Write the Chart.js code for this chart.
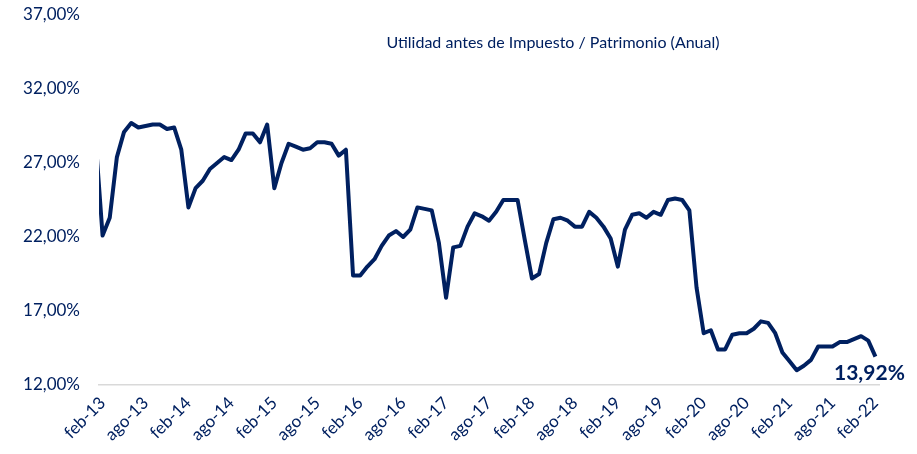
<!DOCTYPE html>
<html>
<head>
<meta charset="utf-8">
<script src="https://cdn.jsdelivr.net/npm/chart.js@4/dist/chart.umd.min.js"></script>
<style>
  html, body { margin: 0; padding: 0; background: #fff; }
  #wrap { width: 917px; height: 454px; position: relative; }
</style>
</head>
<body>
<div id="wrap"><canvas id="myChart"></canvas></div>
<script>
// monthly values, ene-13 .. feb-22 (index 0 = ene-13, 1 = feb-13)
const values = [
  28.8,
  22.1, 23.3, 27.4, 29.1, 29.7, 29.4, 29.5, 29.6, 29.6, 29.3,
  29.4, 27.9, 24.0, 25.3, 25.8, 26.6, 27.0, 27.4, 27.2, 27.9,
  29.0, 29.0, 28.4, 29.6, 25.3, 27.0, 28.3, 28.1, 27.9, 28.0,
  28.4, 28.4, 28.3, 27.5, 27.9, 19.4, 19.4, 20.0, 20.5, 21.4,
  22.1, 22.4, 22.0, 22.5, 24.0, 23.9, 23.8, 21.6, 17.9, 21.3,
  21.4, 22.7, 23.6, 23.4, 23.1, 23.7, 24.5, 24.5, 24.5, 21.8,
  19.2, 19.5, 21.6, 23.2, 23.3, 23.1, 22.7, 22.7, 23.7, 23.3,
  22.7, 21.9, 20.0, 22.5, 23.5, 23.6, 23.3, 23.7, 23.5, 24.5,
  24.6, 24.5, 23.8, 18.6, 15.5, 15.7, 14.4, 14.4, 15.4, 15.5,
  15.5, 15.8, 16.3, 16.2, 15.5, 14.2, 13.6, 13.0, 13.3, 13.7,
  14.6, 14.6, 14.6, 14.9, 14.9, 15.1, 15.3, 15.0, 13.92
];

// x tick labels, every 6 months starting at feb-13 (index 1)
const tickLabels = [
  "feb-13", "ago-13", "feb-14", "ago-14", "feb-15", "ago-15", "feb-16",
  "ago-16", "feb-17", "ago-17", "feb-18", "ago-18", "feb-19", "ago-19",
  "feb-20", "ago-20", "feb-21", "ago-21", "feb-22"
];
const tickStart = 1;
const tickStep = 6;

const yTicks = [12, 17, 22, 27, 32, 37];

const title = "Utilidad antes de Impuesto / Patrimonio (Anual)";
const lastLabel = "13,92%";

const navy = "#002060";
const font = "Lato, 'Open Sans', sans-serif";

const overlay = {
  id: "overlay",
  afterDatasetsDraw(chart) {
    const { ctx, chartArea, scales } = chart;
    ctx.save();
    ctx.fillStyle = navy;
    ctx.textAlign = "center";
    ctx.textBaseline = "middle";
    ctx.font = "16px " + font;
    ctx.fillText(title, chartArea.left + (chartArea.right - chartArea.left) * 0.582, chartArea.top + 28);

    const i = values.length - 1;
    const px = scales.x.getPixelForValue(i);
    const py = scales.y.getPixelForValue(values[i]);
    ctx.font = "bold 21px " + font;
    ctx.fillText(lastLabel, px - 6, py + 17);
    ctx.restore();
  }
};

new Chart(document.getElementById("myChart").getContext("2d"), {
  type: "line",
  data: {
    datasets: [
      {
        data: values.map((v, i) => ({ x: i, y: v })),
        borderColor: navy,
        borderWidth: 4,
        borderJoinStyle: "round",
        pointRadius: 0,
        tension: 0,
        fill: false,
      },
    ],
  },
  options: {
    responsive: true,
    maintainAspectRatio: false,
    animation: false,
    layout: { padding: { top: 15, right: 38, left: 0, bottom: 0 } },
    plugins: { legend: { display: false }, tooltip: { enabled: false }, title: { display: false } },
    scales: {
      x: {
        type: "linear",
        min: 0.5,
        max: 109.5,
        afterBuildTicks(scale) {
          scale.ticks = tickLabels.map((_, j) => ({ value: tickStart + tickStep * j }));
        },
        afterFit(scale) {
          scale.height = 69;
          scale.paddingTop = 0;
          scale.paddingBottom = 0;
        },
        grid: { display: false, drawTicks: false },
        border: { display: true, color: "#d9d9d9", width: 1.5 },
        ticks: {
          autoSkip: false,
          minRotation: 45,
          maxRotation: 45,
          padding: 8,
          color: navy,
          font: { family: font, size: 17 },
          callback: (v) => tickLabels[(v - tickStart) / tickStep],
        },
      },
      y: {
        min: 12,
        max: 37,
        afterBuildTicks(scale) {
          scale.ticks = yTicks.map((v) => ({ value: v }));
        },
        afterFit(scale) {
          scale.width = 99;
          scale.paddingTop = 0;
          scale.paddingBottom = 0;
        },
        grid: { display: false, drawTicks: false },
        border: { display: false },
        ticks: {
          padding: 19,
          color: navy,
          font: { family: font, size: 17 },
          callback: (v) => v.toFixed(2).replace(".", ",") + "%",
        },
      },
    },
  },
  plugins: [overlay],
});
</script>
</body>
</html>
